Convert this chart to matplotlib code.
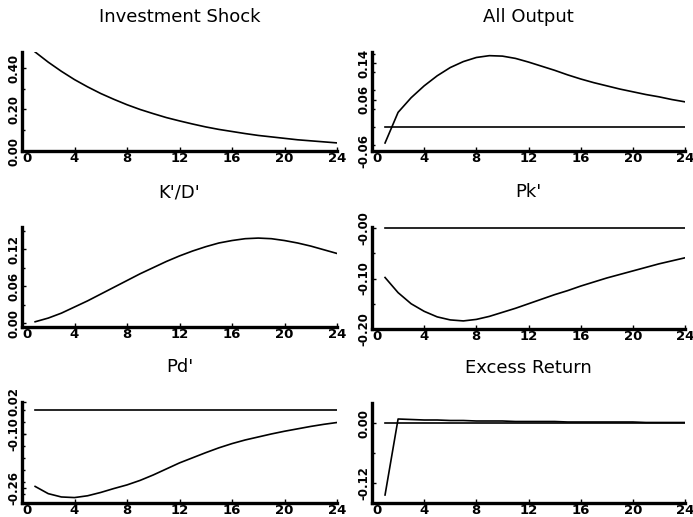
import matplotlib.pyplot as plt
import matplotlib.ticker as mticker

plt.rcParams.update({"font.family": "DejaVu Sans"})

# horizons 1..24
steps = list(range(1, 25))

invest_shock = [0.477, 0.428, 0.384, 0.344, 0.309, 0.277, 0.249, 0.223, 0.200, 0.180,
                0.161, 0.145, 0.130, 0.116, 0.104, 0.094, 0.084, 0.075, 0.068, 0.061,
                0.054, 0.049, 0.044, 0.039]
all_output = [-0.035, 0.032, 0.064, 0.090, 0.112, 0.130, 0.143, 0.152, 0.156, 0.155,
              0.150, 0.142, 0.133, 0.124, 0.114, 0.105, 0.097, 0.090, 0.083, 0.077,
              0.071, 0.066, 0.060, 0.055]
k_over_d = [0.002, 0.008, 0.016, 0.026, 0.036, 0.047, 0.058, 0.069, 0.080, 0.090,
            0.100, 0.109, 0.117, 0.124, 0.130, 0.134, 0.137, 0.138, 0.137, 0.134,
            0.130, 0.125, 0.119, 0.113]
pk = [-0.098, -0.128, -0.150, -0.165, -0.176, -0.182, -0.184, -0.181, -0.175, -0.167,
      -0.159, -0.150, -0.141, -0.132, -0.124, -0.115, -0.107, -0.099, -0.092, -0.085,
      -0.078, -0.071, -0.065, -0.059]
pd_ = [-0.255, -0.279, -0.290, -0.292, -0.286, -0.275, -0.262, -0.250, -0.235, -0.217,
       -0.197, -0.177, -0.160, -0.143, -0.127, -0.113, -0.101, -0.091, -0.081, -0.072,
       -0.064, -0.056, -0.049, -0.043]
excess_ret = [-0.144, 0.008, 0.007, 0.006, 0.006, 0.005, 0.005, 0.004, 0.004, 0.004,
              0.003, 0.003, 0.003, 0.003, 0.002, 0.002, 0.002, 0.002, 0.002, 0.002,
              0.001, 0.001, 0.001, 0.001]

x_ticks = [0, 4, 8, 12, 16, 20, 24]

# title, series, ylim, tick positions, tick labels, minor step, zero line, axes rect (px)
panels = [
    ("Investment Shock", invest_shock, (0.0, 0.477), [0.0, 0.2, 0.4],
     ["0.00", "0.20", "0.40"], 0.1, False, (22, 52, 337, 151)),
    ("All Output", all_output, (-0.0525, 0.164), [-0.0525, 0.06, 0.14],
     ["-0.06", "0.06", "0.14"], 0.04, True, (372, 52, 685, 151)),
    ("K'/D'", k_over_d, (-0.0065, 0.156), [0.0, 0.06, 0.12],
     ["0.00", "0.06", "0.12"], 0.03, False, (22, 227, 337, 327)),
    ("Pk'", pk, (-0.2, 0.002), [0.0, -0.1, -0.2],
     ["-0.00", "-0.10", "-0.20"], 0.05, True, (372, 227, 685, 329)),
    ("Pd'", pd_, (-0.31, 0.025), [0.025, -0.082, -0.26],
     ["0.02", "-0.10", "-0.26"], 0.04, True, (22, 402, 337, 503)),
    ("Excess Return", excess_ret, (-0.16, 0.04), [0.0, -0.12],
     ["0.00", "-0.12"], 0.06, True, (372, 403, 685, 503)),
]

W, H = 693, 517
fig = plt.figure(figsize=(W / 100, H / 100), dpi=100)

for title, ys, ylim, yt, ylab, minor, zero, (x0, y0, x1, y1) in panels:
    ax = fig.add_axes([x0 / W, 1 - y1 / H, (x1 - x0) / W, (y1 - y0) / H])
    ax.plot(steps, ys, color="black", linewidth=1.2)
    if zero:
        ax.plot([steps[0], steps[-1]], [0, 0], color="black", linewidth=1.2)
    ax.set_xlim(0, 24)
    ax.set_ylim(*ylim)
    ax.set_xticks(x_ticks)
    ax.set_xticklabels([str(t) for t in x_ticks], fontweight="bold", fontsize=9.5)
    ax.get_xticklabels()[0].set_horizontalalignment("left")
    ax.yaxis.set_major_locator(mticker.FixedLocator(yt))
    ax.set_yticklabels(ylab, rotation=90, va="center", fontweight="bold", fontsize=8.5)
    ax.yaxis.set_minor_locator(mticker.MultipleLocator(minor))
    ax.tick_params(axis="both", which="major", direction="in", length=3, width=1, pad=1)
    ax.tick_params(axis="y", which="minor", direction="in", length=2, width=1)
    for side in ["top", "right"]:
        ax.spines[side].set_visible(False)
    for side in ["left", "bottom"]:
        ax.spines[side].set_linewidth(2.4)
    ax.patch.set_alpha(0)
    fig.text((x0 + x1) / 2 / W, 1 - (min(y0, 405) - 35) / H, title, ha="center",
             va="center", fontsize=13)

fig.savefig("out.png", dpi=100)
